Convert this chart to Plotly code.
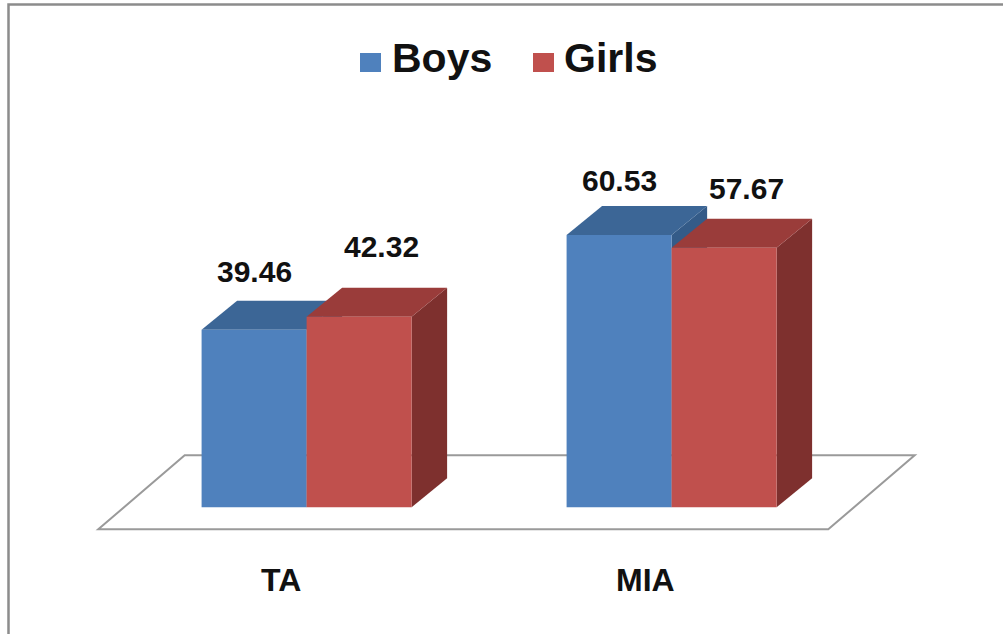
import plotly.graph_objects as go

# ---- data ----
categories = ["TA", "MIA"]
boys = [39.46, 60.53]
girls = [42.32, 57.67]
series_names = ["Boys", "Girls"]

# ---- styling ----
W, H = 1003, 634
FONT = "Liberation Sans, Arial, sans-serif"
FRONT = {"Boys": "#4F81BD", "Girls": "#C0504D"}
TOP = {"Boys": "#3C6696", "Girls": "#9A3C3A"}
SIDE = {"Boys": "#345B88", "Girls": "#7E302E"}

# pixel geometry of the axes (category 0 centre, px per category, baseline, px per unit)
X0_PX, PX_PER_CAT = 306.6, 365.0
BASE_PX, PX_PER_UNIT = 507.3, 4.5
x_range = [(0 - X0_PX) / PX_PER_CAT, (W - X0_PX) / PX_PER_CAT]
y_range = [(BASE_PX - H) / PX_PER_UNIT, BASE_PX / PX_PER_UNIT]

BAR_W = 0.2877                       # width of one bar, in category units
DX, DY = 35.5 / PX_PER_CAT, 29.0 / PX_PER_UNIT   # 3-D depth offset
FLOOR_FRONT = (-0.0707, -4.89)       # floor front edge offset
FLOOR_BACK = (0.166, 11.56)          # floor back edge offset

values = {"Boys": boys, "Girls": girls}
offsets = {"Boys": -BAR_W, "Girls": 0.0}
label_xshift = {"Boys": 0, "Girls": 22}
label_yshift = {"Boys": [11, 7], "Girls": [23, 12]}

fig = go.Figure()
xs = list(range(len(categories)))

# front faces of the bars
for name in series_names:
    fig.add_trace(go.Bar(
        x=xs, y=values[name], name=name,
        width=BAR_W, offset=offsets[name],
        marker=dict(color=FRONT[name], line=dict(width=0)),
        showlegend=False, hoverinfo="skip",
    ))

shapes = []

# floor plane
n = len(categories)
fl, fr = -0.5, n - 0.5
floor_path = (
    f"M {fl + FLOOR_FRONT[0]},{FLOOR_FRONT[1]} "
    f"L {fr + FLOOR_FRONT[0]},{FLOOR_FRONT[1]} "
    f"L {fr + FLOOR_BACK[0]},{FLOOR_BACK[1]} "
    f"L {fl + FLOOR_BACK[0]},{FLOOR_BACK[1]} Z"
)
shapes.append(dict(type="path", path=floor_path, xref="x", yref="y",
                   fillcolor="white", line=dict(color="#9A9A9A", width=2),
                   layer="below"))

# top and side faces, drawn back-to-front per category
for i in xs:
    for name in series_names:
        v = values[name][i]
        x0 = i + offsets[name]
        x1 = x0 + BAR_W
        top = (f"M {x0},{v} L {x1},{v} L {x1 + DX},{v + DY} "
               f"L {x0 + DX},{v + DY} Z")
        side = (f"M {x1},0 L {x1},{v} L {x1 + DX},{v + DY} "
                f"L {x1 + DX},{DY} Z")
        shapes.append(dict(type="path", path=side, xref="x", yref="y",
                           fillcolor=SIDE[name], line=dict(width=0),
                           layer="below"))
        shapes.append(dict(type="path", path=top, xref="x", yref="y",
                           fillcolor=TOP[name], line=dict(width=0),
                           layer="below"))

# outer frame
shapes.append(dict(type="rect", xref="paper", yref="paper",
                   x0=8.5 / W, x1=1.02, y0=-0.02, y1=1 - 4.5 / H,
                   line=dict(color="#8C8C8C", width=2.5),
                   fillcolor="rgba(0,0,0,0)", layer="above"))

annotations = []

# value labels
for name in series_names:
    for i in xs:
        v = values[name][i]
        annotations.append(dict(
            x=i + offsets[name] + BAR_W / 2, y=v + DY, xref="x", yref="y",
            text=f"<b>{v:.2f}</b>", showarrow=False, xanchor="center",
            yanchor="bottom", xshift=label_xshift[name],
            yshift=label_yshift[name][i],
            font=dict(family=FONT, size=30, color="#111111"),
        ))

# category labels, centred under the front edge of the floor
for i, cat in enumerate(categories):
    annotations.append(dict(
        x=i + FLOOR_FRONT[0], y=(BASE_PX - 580) / PX_PER_UNIT,
        xref="x", yref="y", text=f"<b>{cat}</b>", showarrow=False,
        xanchor="center", yanchor="middle",
        font=dict(family=FONT, size=32, color="#111111"),
    ))

# legend: coloured squares with bold labels
legend_items = [("Boys", 360, 390), ("Girls", 533, 562)]
for name, sq_x, txt_x in legend_items:
    shapes.append(dict(type="rect", xref="paper", yref="paper",
                       x0=sq_x / W, x1=(sq_x + 21) / W,
                       y0=1 - 72 / H, y1=1 - 53 / H,
                       fillcolor=FRONT[name], line=dict(width=0)))
    annotations.append(dict(
        x=txt_x / W, y=1 - 58 / H, xref="paper", yref="paper",
        text=f"<b>{name}</b>", showarrow=False, xanchor="left",
        yanchor="middle",
        font=dict(family=FONT, size=41, color="#111111"),
    ))

fig.update_layout(
    width=W, height=H,
    margin=dict(l=0, r=0, t=0, b=0),
    paper_bgcolor="white", plot_bgcolor="rgba(0,0,0,0)",
    barmode="overlay",
    showlegend=False,
    shapes=shapes, annotations=annotations,
    xaxis=dict(range=x_range, visible=False, fixedrange=True),
    yaxis=dict(range=y_range, visible=False, fixedrange=True),
)

fig.write_html("out.html")
